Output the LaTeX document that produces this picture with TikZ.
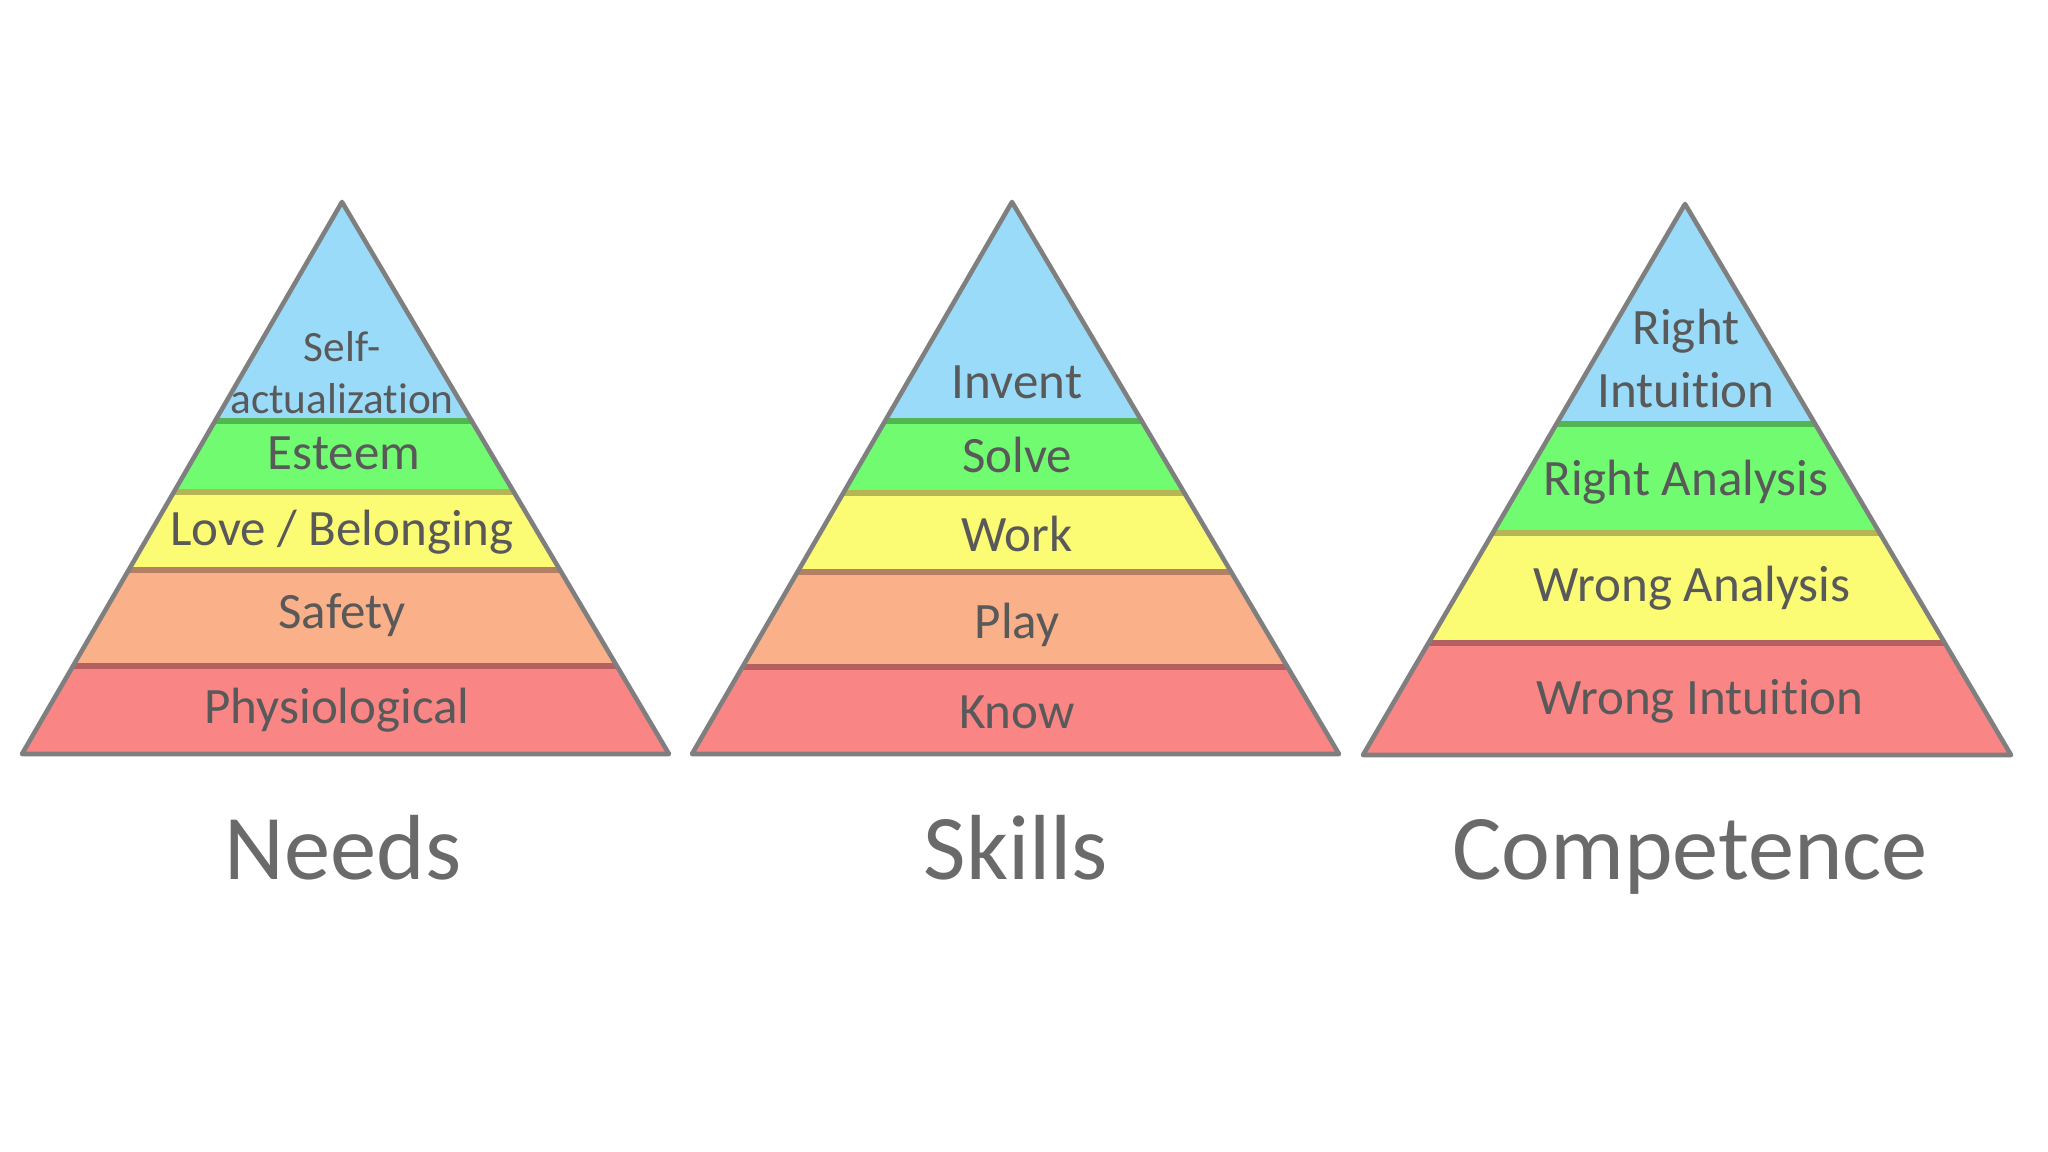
\documentclass[tikz,border=0pt]{standalone}
\usepackage{fontspec}
\setmainfont[Ligatures=NoCommon]{Carlito}
\usetikzlibrary{positioning}
\definecolor{txtgrey}{HTML}{595959}
\definecolor{rimgrey}{HTML}{7F7F7F}
\definecolor{skyband}{HTML}{99DBF8}
\definecolor{grassband}{HTML}{70FB70}
\definecolor{lemonband}{HTML}{FBFB74}
\definecolor{peachband}{HTML}{FAB088}
\definecolor{roseband}{HTML}{FA8585}
\tikzset{
  lbl/.style={text=txtgrey,inner sep=0pt,anchor=base,
    font=\fontsize{14.5}{17}\selectfont},
  small/.style={font=\fontsize{12.3}{15}\selectfont},
  title/.style={text=txtgrey!90!white,inner sep=0pt,anchor=base,
    font=\fontsize{26.3}{30}\selectfont},
  rim/.style={draw=rimgrey,line width=1.3pt,line join=round},
  seam/.style={line width=1.6pt},
}
% one band: colour, top, bottom (clipped by the pyramid)
\newcommand\band[3]{%
  \fill[#1] (0,#2) rectangle (2048,#3);
  \draw[seam,#1!72!black] (0,#2) -- (2048,#2);}
\begin{document}
\begin{tikzpicture}[x=0.01cm,y=-0.01cm]
\useasboundingbox (0,0) rectangle (2048,1152);
\fill[white] (0,0) rectangle (2048,1152);

% Needs
\coordinate (NA) at (342,202);
\coordinate (NL) at (22,754);
\coordinate (NR) at (669,754);
\begin{scope}
\clip (NA) -- (NL) -- (NR) -- cycle;
\fill[skyband] (0,190) rectangle (2048,421);
\band{grassband}{421}{492}
\band{lemonband}{492}{570}
\band{peachband}{570}{666}
\band{roseband}{666}{760}
\end{scope}
\draw[rim] (NA) -- (NL) -- (NR) -- cycle;
\node[lbl,small] (self) at (342,362) {Self-};
\node[lbl,small] (actual) at ([yshift=-0.51cm]self.base) {actualization};
\node[lbl] (esteem) at (344,470) {Esteem};
\node[lbl] (love) at (342,545) {Love / Belonging};
\node[lbl] (safety) at (342,628) {Safety};
\node[lbl] (physio) at (337,723) {Physiological};
\node[title] (needs) at (343,879) {Needs};

% Skills
\coordinate (SA) at (1012,202);
\coordinate (SL) at (692,754);
\coordinate (SR) at (1339,754);
\begin{scope}
\clip (SA) -- (SL) -- (SR) -- cycle;
\fill[skyband] (0,190) rectangle (2048,421);
\band{grassband}{421}{493}
\band{lemonband}{493}{572}
\band{peachband}{572}{667}
\band{roseband}{667}{760}
\end{scope}
\draw[rim] (SA) -- (SL) -- (SR) -- cycle;
\node[lbl] (invent) at (1017,399) {Invent};
\node[lbl] (solve) at (1017,472) {Solve};
\node[lbl] (work) at (1017,552) {Work};
\node[lbl] (play) at (1017,639) {Play};
\node[lbl] (know) at (1017,728) {Know};
\node[title] (skills) at (1016,879) {Skills};

% Competence
\coordinate (CA) at (1685,204);
\coordinate (CL) at (1363,755);
\coordinate (CR) at (2011,755);
\begin{scope}
\clip (CA) -- (CL) -- (CR) -- cycle;
\fill[skyband] (0,190) rectangle (2048,424);
\band{grassband}{424}{533}
\band{lemonband}{533}{643}
\band{roseband}{643}{760}
\end{scope}
\draw[rim] (CA) -- (CL) -- (CR) -- cycle;
\node[lbl] (right) at (1686,345) {Right};
\node[lbl] (intu) at ([yshift=-0.62cm]right.base) {Intuition};
\node[lbl] (rana) at (1686,495) {Right Analysis};
\node[lbl] (wana) at (1692,602) {Wrong Analysis};
\node[lbl] (wintu) at (1700,714) {Wrong Intuition};
\node[title] (comp) at (1690,879) {Competence};
\end{tikzpicture}
\end{document}
